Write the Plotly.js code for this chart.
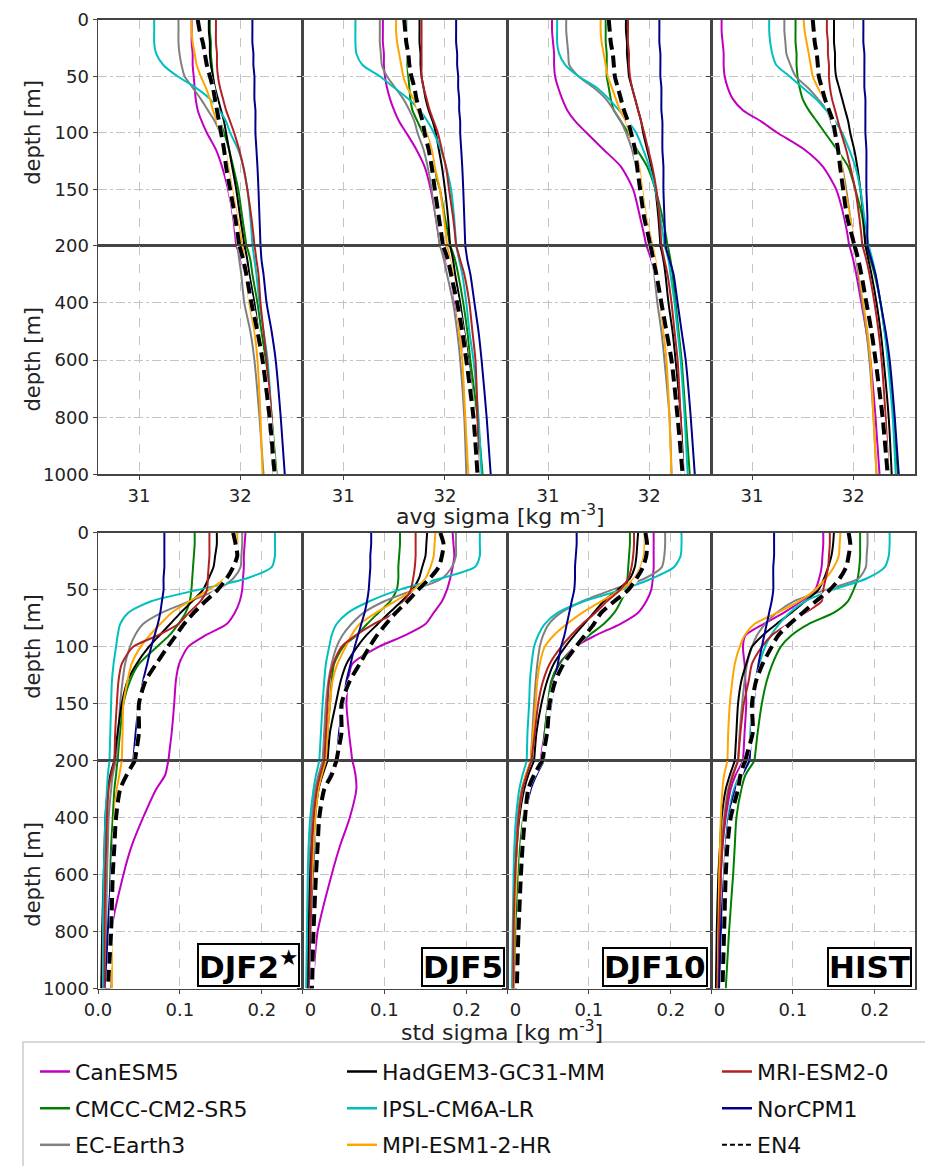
<!DOCTYPE html>
<html><head><meta charset="utf-8">
<script src="https://cdn.plot.ly/plotly-3.0.1.min.js"></script>
<style>body{margin:0;background:#fff}#chart{width:925px;height:1166px}</style>
</head><body><div id="chart"></div>
<script>
// ---------------- DATA ----------------
const depth = [0,10,20,30,40,50,60,70,80,90,100,115,130,150,175,200,250,300,400,500,600,800,1000];
const models = ['CanESM5','CMCC-CM2-SR5','EC-Earth3','HadGEM3-GC31-MM','IPSL-CM6A-LR','MPI-ESM1-2-HR','MRI-ESM2-0','NorCPM1','EN4'];
const colors = ['#c000c0','#008000','#808080','#000000','#00bfbf','#ffa500','#b22222','#00008b','#000000'];
const panelNames = ['DJF2<sup>★</sup>','DJF5','DJF10','HIST'];
const avgTicks = [31, 32];
const stdTicks = [0, 0.1, 0.2];
const stdTickText0 = ['0.0','0.1','0.2'];
const stdTickText = ['\u00a0\u00a0\u00a00','0.1','0.2'];
const upperTicks = [0,50,100,150,200];
const lowerTicks = [400,600,800,1000];

// avg sigma, rows in the order of `models`
const avgDJF2 = [
 [31.52,31.52,31.52,31.53,31.53,31.54,31.55,31.56,31.58,31.62,31.67,31.76,31.82,31.88,31.93,31.96,32.01,32.05,32.11,32.17,32.22,32.28,32.33],
 [31.70,31.70,31.71,31.71,31.72,31.73,31.74,31.75,31.77,31.80,31.84,31.89,31.93,31.98,32.02,32.06,32.10,32.12,32.17,32.21,32.25,32.31,32.36],
 [31.39,31.39,31.39,31.40,31.42,31.45,31.53,31.61,31.68,31.75,31.80,31.84,31.87,31.91,31.94,31.97,31.99,32.01,32.04,32.10,32.14,32.19,32.23],
 [31.69,31.69,31.70,31.70,31.71,31.73,31.75,31.78,31.81,31.84,31.86,31.89,31.92,31.96,32.00,32.04,32.07,32.09,32.14,32.18,32.22,32.28,32.33],
 [31.15,31.15,31.15,31.17,31.24,31.38,31.56,31.70,31.79,31.86,31.90,31.98,32.03,32.07,32.10,32.12,32.14,32.16,32.19,32.23,32.27,32.31,32.34],
 [31.52,31.52,31.53,31.55,31.57,31.61,31.66,31.70,31.73,31.77,31.80,31.85,31.88,31.92,31.97,32.02,32.04,32.06,32.09,32.14,32.17,32.20,32.22],
 [31.76,31.76,31.76,31.77,31.77,31.78,31.80,31.83,31.86,31.90,31.94,31.99,32.03,32.07,32.11,32.14,32.16,32.18,32.20,32.23,32.26,32.31,32.33],
 [32.12,32.12,32.12,32.13,32.13,32.14,32.14,32.14,32.15,32.15,32.15,32.16,32.17,32.18,32.19,32.20,32.21,32.23,32.26,32.31,32.35,32.40,32.44],
 [31.58,31.60,31.63,31.65,31.67,31.70,31.73,31.75,31.77,31.79,31.81,31.84,31.86,31.90,31.95,31.99,32.03,32.06,32.11,32.17,32.22,32.29,32.34]
];
const avgDJF5 = [
 [31.39,31.39,31.39,31.40,31.40,31.41,31.43,31.46,31.50,31.55,31.62,31.72,31.80,31.86,31.91,31.95,32.01,32.05,32.10,32.15,32.20,32.28,32.32],
 [31.62,31.62,31.62,31.63,31.63,31.64,31.65,31.66,31.68,31.73,31.78,31.84,31.88,31.95,32.00,32.05,32.10,32.13,32.18,32.22,32.25,32.32,32.37],
 [31.36,31.36,31.36,31.37,31.38,31.43,31.51,31.59,31.65,31.70,31.73,31.79,31.83,31.87,31.91,31.95,31.99,32.02,32.08,32.12,32.15,32.19,32.21],
 [31.75,31.75,31.75,31.76,31.76,31.77,31.79,31.81,31.84,31.88,31.91,31.94,31.97,32.00,32.03,32.05,32.08,32.10,32.15,32.19,32.23,32.29,32.33],
 [31.12,31.12,31.12,31.13,31.19,31.36,31.50,31.64,31.75,31.83,31.89,31.96,32.01,32.06,32.09,32.11,32.14,32.17,32.21,32.24,32.28,32.33,32.36],
 [31.52,31.52,31.53,31.55,31.57,31.59,31.63,31.69,31.73,31.78,31.82,31.87,31.90,31.95,31.99,32.02,32.05,32.08,32.11,32.14,32.17,32.20,32.23],
 [31.77,31.77,31.77,31.77,31.77,31.77,31.79,31.82,31.85,31.89,31.93,31.97,32.01,32.04,32.08,32.11,32.15,32.19,32.24,32.27,32.30,32.32,32.33],
 [32.11,32.11,32.11,32.12,32.12,32.13,32.13,32.14,32.14,32.15,32.15,32.16,32.17,32.18,32.19,32.20,32.22,32.25,32.29,32.33,32.36,32.41,32.45],
 [31.60,31.61,31.62,31.64,31.65,31.67,31.70,31.72,31.75,31.78,31.80,31.84,31.87,31.90,31.94,31.98,32.03,32.06,32.12,32.17,32.21,32.28,32.32]
];
const avgDJF10 = [
 [31.04,31.04,31.05,31.06,31.06,31.07,31.10,31.14,31.19,31.27,31.38,31.55,31.72,31.84,31.91,31.97,32.02,32.06,32.11,32.16,32.21,32.28,32.32],
 [31.57,31.57,31.57,31.58,31.58,31.58,31.60,31.62,31.65,31.72,31.79,31.88,31.98,32.06,32.13,32.18,32.21,32.23,32.26,32.29,32.32,32.36,32.40],
 [31.18,31.18,31.19,31.20,31.21,31.30,31.45,31.57,31.65,31.72,31.77,31.83,31.87,31.92,31.96,32.00,32.03,32.05,32.08,32.12,32.15,32.20,32.22],
 [31.77,31.77,31.78,31.78,31.79,31.80,31.83,31.86,31.89,31.92,31.94,31.98,32.02,32.06,32.09,32.11,32.14,32.16,32.19,32.23,32.26,32.31,32.34],
 [31.09,31.09,31.09,31.11,31.17,31.30,31.48,31.60,31.70,31.79,31.87,31.94,32.00,32.06,32.11,32.15,32.19,32.21,32.25,32.28,32.31,32.35,32.38],
 [31.52,31.52,31.53,31.55,31.57,31.59,31.63,31.67,31.71,31.77,31.80,31.86,31.90,31.93,31.97,32.03,32.06,32.08,32.11,32.14,32.17,32.20,32.22],
 [31.79,31.79,31.79,31.80,31.80,31.81,31.83,31.86,31.89,31.92,31.95,31.99,32.03,32.07,32.10,32.12,32.15,32.18,32.22,32.25,32.28,32.31,32.33],
 [32.10,32.10,32.10,32.11,32.11,32.11,32.12,32.12,32.12,32.13,32.13,32.13,32.14,32.14,32.15,32.16,32.20,32.24,32.28,32.32,32.36,32.41,32.45],
 [31.60,31.61,31.62,31.64,31.65,31.66,31.69,31.72,31.75,31.79,31.82,31.86,31.88,31.91,31.95,32.01,32.04,32.07,32.12,32.17,32.22,32.28,32.33]
];
const avgHIST = [
 [30.70,30.70,30.71,30.72,30.72,30.73,30.76,30.81,30.91,31.09,31.25,31.52,31.70,31.83,31.91,31.96,32.00,32.03,32.08,32.13,32.17,32.22,32.26],
 [31.43,31.43,31.43,31.44,31.44,31.45,31.47,31.50,31.56,31.64,31.72,31.84,31.95,32.02,32.09,32.12,32.17,32.21,32.27,32.31,32.35,32.40,32.44],
 [31.32,31.32,31.33,31.34,31.38,31.43,31.55,31.65,31.74,31.78,31.81,31.85,31.89,31.93,31.97,32.01,32.03,32.05,32.09,32.13,32.16,32.20,32.23],
 [31.81,31.81,31.81,31.82,31.82,31.83,31.86,31.89,31.92,31.95,31.97,32.01,32.04,32.07,32.10,32.12,32.15,32.18,32.23,32.27,32.30,32.35,32.38],
 [31.17,31.17,31.18,31.20,31.24,31.37,31.50,31.63,31.73,31.82,31.89,31.96,32.02,32.07,32.11,32.15,32.19,32.22,32.27,32.31,32.34,32.39,32.42],
 [31.51,31.52,31.54,31.56,31.58,31.60,31.65,31.71,31.76,31.80,31.82,31.86,31.89,31.92,31.97,32.01,32.04,32.06,32.10,32.14,32.17,32.20,32.23],
 [31.74,31.74,31.75,31.75,31.76,31.76,31.77,31.79,31.82,31.85,31.88,31.93,31.97,32.02,32.06,32.09,32.13,32.16,32.21,32.25,32.28,32.32,32.35],
 [32.10,32.10,32.10,32.11,32.11,32.11,32.11,32.12,32.12,32.12,32.12,32.13,32.13,32.13,32.14,32.14,32.18,32.22,32.27,32.32,32.36,32.41,32.45],
 [31.60,31.61,31.62,31.64,31.65,31.66,31.69,31.72,31.76,31.80,31.82,31.85,31.87,31.90,31.94,32.01,32.05,32.08,32.13,32.18,32.22,32.29,32.34]
];

// std sigma, rows in the order of `models`
const stdDJF2 = [
 [0.180,0.179,0.178,0.178,0.177,0.176,0.173,0.167,0.157,0.131,0.110,0.099,0.095,0.093,0.090,0.086,0.082,0.071,0.055,0.041,0.031,0.016,0.014],
 [0.118,0.118,0.117,0.116,0.115,0.114,0.112,0.107,0.098,0.087,0.072,0.050,0.039,0.031,0.027,0.024,0.022,0.020,0.018,0.016,0.015,0.014,0.014],
 [0.176,0.176,0.175,0.174,0.165,0.145,0.112,0.078,0.055,0.045,0.039,0.033,0.030,0.027,0.025,0.022,0.018,0.016,0.013,0.012,0.011,0.010,0.010],
 [0.145,0.145,0.143,0.141,0.135,0.128,0.115,0.101,0.088,0.075,0.062,0.047,0.036,0.029,0.024,0.020,0.015,0.012,0.009,0.008,0.007,0.005,0.004],
 [0.216,0.216,0.216,0.212,0.181,0.122,0.065,0.037,0.027,0.024,0.022,0.019,0.017,0.016,0.015,0.014,0.012,0.011,0.009,0.008,0.007,0.006,0.006],
 [0.170,0.170,0.170,0.165,0.155,0.135,0.112,0.090,0.076,0.063,0.052,0.041,0.036,0.031,0.030,0.029,0.026,0.023,0.020,0.019,0.018,0.017,0.017],
 [0.136,0.136,0.136,0.135,0.134,0.133,0.125,0.111,0.098,0.073,0.043,0.029,0.025,0.023,0.021,0.020,0.016,0.013,0.011,0.010,0.009,0.008,0.008],
 [0.081,0.081,0.081,0.081,0.080,0.080,0.078,0.076,0.073,0.069,0.065,0.060,0.055,0.050,0.046,0.043,0.035,0.028,0.022,0.018,0.016,0.012,0.010],
 [0.165,0.168,0.170,0.165,0.157,0.146,0.131,0.117,0.105,0.095,0.085,0.071,0.058,0.050,0.050,0.045,0.035,0.027,0.022,0.020,0.018,0.016,0.012]
];
const stdDJF5 = [
 [0.183,0.184,0.185,0.183,0.180,0.176,0.170,0.160,0.150,0.125,0.093,0.061,0.056,0.054,0.057,0.061,0.065,0.066,0.058,0.046,0.036,0.019,0.013],
 [0.119,0.119,0.118,0.117,0.117,0.115,0.107,0.093,0.079,0.066,0.050,0.039,0.036,0.034,0.031,0.029,0.024,0.020,0.016,0.014,0.013,0.011,0.010],
 [0.187,0.187,0.187,0.182,0.170,0.136,0.100,0.075,0.060,0.049,0.042,0.036,0.032,0.029,0.027,0.025,0.020,0.016,0.012,0.010,0.009,0.008,0.007],
 [0.152,0.151,0.150,0.146,0.142,0.134,0.121,0.106,0.092,0.078,0.067,0.054,0.047,0.041,0.034,0.031,0.025,0.020,0.015,0.012,0.010,0.008,0.007],
 [0.216,0.216,0.216,0.210,0.168,0.118,0.082,0.056,0.042,0.036,0.033,0.029,0.027,0.025,0.023,0.021,0.017,0.014,0.010,0.008,0.007,0.006,0.005],
 [0.162,0.161,0.160,0.156,0.150,0.135,0.113,0.090,0.070,0.060,0.053,0.043,0.037,0.034,0.031,0.029,0.024,0.020,0.016,0.014,0.013,0.012,0.011],
 [0.138,0.138,0.138,0.137,0.135,0.132,0.124,0.113,0.087,0.065,0.048,0.038,0.033,0.031,0.029,0.027,0.022,0.018,0.014,0.012,0.011,0.010,0.009],
 [0.084,0.084,0.083,0.083,0.082,0.081,0.079,0.076,0.072,0.068,0.064,0.059,0.054,0.050,0.045,0.042,0.034,0.027,0.020,0.017,0.015,0.012,0.010],
 [0.168,0.172,0.170,0.166,0.155,0.141,0.128,0.114,0.102,0.091,0.082,0.070,0.058,0.048,0.048,0.042,0.036,0.027,0.021,0.019,0.017,0.014,0.012]
];
const stdDJF10 = [
 [0.179,0.179,0.179,0.179,0.178,0.176,0.170,0.160,0.138,0.108,0.083,0.064,0.055,0.050,0.046,0.041,0.034,0.028,0.021,0.017,0.015,0.012,0.011],
 [0.150,0.150,0.149,0.148,0.147,0.145,0.139,0.131,0.118,0.100,0.084,0.064,0.054,0.050,0.046,0.043,0.035,0.028,0.020,0.016,0.014,0.011,0.010],
 [0.193,0.193,0.192,0.189,0.168,0.128,0.092,0.066,0.051,0.044,0.040,0.037,0.035,0.033,0.031,0.029,0.023,0.018,0.013,0.011,0.010,0.009,0.008],
 [0.160,0.159,0.158,0.156,0.150,0.135,0.118,0.106,0.094,0.082,0.071,0.057,0.049,0.042,0.036,0.033,0.026,0.021,0.015,0.012,0.010,0.008,0.007],
 [0.213,0.213,0.212,0.204,0.177,0.139,0.094,0.062,0.046,0.038,0.033,0.030,0.028,0.027,0.025,0.024,0.019,0.015,0.011,0.009,0.008,0.007,0.006],
 [0.168,0.168,0.167,0.163,0.155,0.139,0.115,0.092,0.073,0.057,0.046,0.040,0.037,0.035,0.032,0.029,0.023,0.019,0.014,0.012,0.011,0.009,0.008],
 [0.155,0.155,0.154,0.152,0.148,0.138,0.122,0.108,0.092,0.078,0.066,0.052,0.044,0.038,0.034,0.030,0.024,0.019,0.014,0.012,0.010,0.008,0.008],
 [0.085,0.085,0.084,0.083,0.083,0.082,0.079,0.076,0.073,0.070,0.066,0.062,0.058,0.054,0.049,0.045,0.036,0.029,0.022,0.018,0.016,0.013,0.011],
 [0.169,0.171,0.170,0.166,0.158,0.148,0.131,0.115,0.106,0.095,0.084,0.069,0.059,0.052,0.049,0.043,0.033,0.026,0.022,0.019,0.017,0.014,0.012]
];
const stdHIST = [
 [0.137,0.137,0.136,0.135,0.132,0.127,0.110,0.089,0.064,0.042,0.039,0.041,0.042,0.043,0.041,0.039,0.030,0.024,0.018,0.014,0.012,0.010,0.008],
 [0.182,0.182,0.182,0.181,0.179,0.174,0.167,0.150,0.119,0.098,0.085,0.075,0.068,0.062,0.057,0.053,0.042,0.037,0.031,0.029,0.027,0.022,0.018],
 [0.191,0.191,0.190,0.189,0.180,0.140,0.101,0.080,0.066,0.056,0.050,0.044,0.041,0.038,0.035,0.033,0.026,0.021,0.016,0.013,0.012,0.010,0.009],
 [0.150,0.149,0.147,0.143,0.138,0.131,0.115,0.098,0.080,0.063,0.050,0.043,0.037,0.033,0.031,0.029,0.023,0.018,0.013,0.011,0.009,0.007,0.006],
 [0.218,0.218,0.217,0.212,0.190,0.148,0.115,0.096,0.083,0.073,0.066,0.059,0.054,0.050,0.048,0.045,0.035,0.028,0.021,0.018,0.016,0.012,0.010],
 [0.158,0.157,0.156,0.150,0.140,0.127,0.107,0.081,0.053,0.041,0.035,0.029,0.026,0.023,0.021,0.020,0.016,0.014,0.012,0.011,0.010,0.009,0.008],
 [0.145,0.145,0.144,0.143,0.140,0.137,0.135,0.115,0.094,0.074,0.062,0.050,0.046,0.040,0.036,0.033,0.027,0.022,0.017,0.014,0.012,0.010,0.009],
 [0.077,0.077,0.077,0.076,0.076,0.076,0.074,0.071,0.068,0.065,0.062,0.058,0.055,0.052,0.049,0.047,0.038,0.030,0.022,0.018,0.016,0.012,0.010],
 [0.168,0.170,0.168,0.165,0.157,0.145,0.128,0.112,0.096,0.082,0.074,0.063,0.055,0.050,0.051,0.042,0.036,0.033,0.024,0.020,0.018,0.016,0.014]
];

// legend rows (matplotlib column-major layout)
const legendRows = [
 ['CanESM5','HadGEM3-GC31-MM','MRI-ESM2-0'],
 ['CMCC-CM2-SR5','IPSL-CM6A-LR','NorCPM1'],
 ['EC-Earth3','MPI-ESM1-2-HR','EN4']
];

// ---------------- FIGURE ----------------
const W = 925, H = 1166;
const colPx = [[98,302],[302,507],[507,711],[711,915]];
const rowPx = [[20,248],[248,479],[538,768],[768,998]];
const avgRange = [30.595, 32.61];
const stdRange = [0, 0.249];
const FONT = 'DejaVu Sans';
const tickfont = {family: FONT, size: 18, color: '#222'};
const groups = [[avgDJF2, avgDJF5, avgDJF10, avgHIST], [stdDJF2, stdDJF5, stdDJF10, stdHIST]];

const sfx = n => (n === 1 ? '' : String(n));
const layout = {
  width: W, height: H, margin: {l:0, r:0, t:0, b:0},
  paper_bgcolor: 'white', plot_bgcolor: 'white', showlegend: true,
  annotations: [], shapes: []
};
const traces = [];

for (let r = 0; r < 4; r++) {
  for (let c = 0; c < 4; c++) {
    const n = r*4 + c + 1;
    const isAvg = r < 2, isUpper = (r % 2 === 0);
    layout['xaxis' + sfx(n)] = {
      domain: [colPx[c][0]/W, colPx[c][1]/W], anchor: 'y' + sfx(n),
      range: isAvg ? avgRange : stdRange,
      tickmode: 'array', tickvals: isAvg ? avgTicks : stdTicks,
      ticktext: isAvg ? avgTicks.map(String) : (c === 0 ? stdTickText0 : stdTickText),
      showticklabels: !isUpper, ticks: isUpper ? '' : 'outside', ticklen: 4, tickcolor: '#444',
      showgrid: true, gridcolor: '#c4c4c4', griddash: 'dash', gridwidth: 1,
      showline: true, mirror: true, linecolor: '#444', linewidth: 1.5, zeroline: false,
      tickfont: tickfont, fixedrange: true
    };
    layout['yaxis' + sfx(n)] = {
      domain: [1 - rowPx[r][1]/H, 1 - rowPx[r][0]/H], anchor: 'x' + sfx(n),
      range: isUpper ? [200, 0] : [1000, 200],
      tickmode: 'array', tickvals: isUpper ? upperTicks : lowerTicks,
      showticklabels: c === 0, ticks: 'outside', ticklen: 4, tickcolor: '#444',
      showgrid: true, gridcolor: '#c4c4c4', griddash: 'dashdot', gridwidth: 1,
      showline: true, mirror: true, linecolor: '#444', linewidth: 1.5, zeroline: false,
      tickfont: tickfont, fixedrange: true
    };
  }
}

for (let g = 0; g < 2; g++) {
  for (let c = 0; c < 4; c++) {
    for (let s = 0; s < 2; s++) {
      const n = (g*2 + s)*4 + c + 1;
      const xa = 'x' + sfx(n), ya = 'y' + sfx(n);
      const data = groups[g][c];
      models.forEach((m, i) => {
        const base = {x: data[i], y: depth, xaxis: xa, yaxis: ya, mode: 'lines',
                      showlegend: false, hoverinfo: 'skip'};
        if (m === 'EN4') {
          traces.push(Object.assign({}, base, {line: {color: 'white', width: 4.5, shape: 'spline', smoothing: 0.7}}));
          traces.push(Object.assign({}, base, {line: {color: 'black', width: 4, dash: '12px,6px', shape: 'spline', smoothing: 0.7}}));
        } else {
          traces.push(Object.assign({}, base, {line: {color: colors[i], width: 2, shape: 'spline', smoothing: 0.7}}));
        }
      });
    }
  }
}

// legend entries (one legend per row)
const legendWidths = [262, 330];
legendRows.forEach((row, ri) => {
  row.forEach((name, ci) => {
    const i = models.indexOf(name);
    const t = {x: [null], y: [null], xaxis: 'x', yaxis: 'y', mode: 'lines', name: name,
      legend: ri === 0 ? 'legend' : 'legend' + (ri + 1), showlegend: true, hoverinfo: 'skip',
      line: name === 'EN4' ? {color: 'black', width: 2, dash: '5px,3px'} : {color: colors[i], width: 2.5}};
    if (ci < 2) t.legendwidth = legendWidths[ci];
    traces.push(t);
  });
});
const legendYs = [1082, 1119, 1156];
legendYs.forEach((py, ri) => {
  layout[ri === 0 ? 'legend' : 'legend' + (ri + 1)] = {
    orientation: 'h', x: 35/W, xanchor: 'left', y: 1 - py/H, yanchor: 'middle',
    font: {family: FONT, size: 22, color: '#111'}, bgcolor: 'rgba(0,0,0,0)', borderwidth: 0,
    itemclick: false, itemdoubleclick: false, tracegroupgap: 0
  };
});
layout.shapes.push({type: 'rect', xref: 'paper', yref: 'paper', x0: 23/W, x1: 1.02,
  y0: 1 - 1052/H, y1: -0.02, line: {color: '#cccccc', width: 1.5}, fillcolor: 'rgba(0,0,0,0)', layer: 'below'});

// axis titles
[134, 363, 653, 883].forEach(py => layout.annotations.push({
  text: 'depth [m]', xref: 'paper', yref: 'paper', x: 33/W, y: 1 - py/H,
  xanchor: 'center', yanchor: 'middle',
  textangle: -90, showarrow: false, font: {family: FONT, size: 21, color: '#222'}
}));
layout.annotations.push({text: 'avg sigma [kg m<sup>-3</sup>]', xref: 'paper', yref: 'paper',
  x: 500/W, y: 1 - 520/H, xanchor: 'center', yanchor: 'middle',
  showarrow: false, font: {family: FONT, size: 22, color: '#222'}});
layout.annotations.push({text: 'std sigma [kg m<sup>-3</sup>]', xref: 'paper', yref: 'paper',
  x: 502/W, y: 1 - 1041/H, xanchor: 'center', yanchor: 'middle',
  showarrow: false, font: {family: FONT, size: 22, color: '#222'}});

// panel labels
const labelRight = [300, 505, 708, 912];
panelNames.forEach((t, c) => layout.annotations.push({
  text: '<b>' + t + '</b>', xref: 'paper', yref: 'paper', x: labelRight[c]/W, xanchor: 'right',
  y: 1 - 996/H, yanchor: 'bottom', showarrow: false, bgcolor: 'white',
  bordercolor: 'black', borderwidth: 2, borderpad: 0,
  font: {family: FONT, size: 31, color: 'black'}
}));

Plotly.newPlot('chart', traces, layout, {staticPlot: true});
</script>
</body></html>
